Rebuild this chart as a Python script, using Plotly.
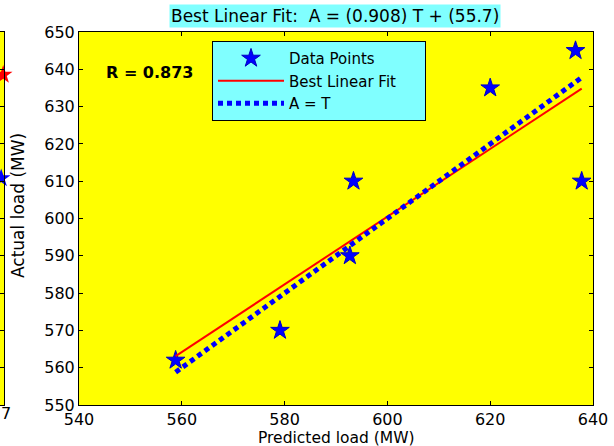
import plotly.graph_objects as go

# Regression of actual vs predicted load
predicted = [558.8, 579.1, 592.7, 593.4, 620.0, 636.6, 637.8]
actual = [562.0, 570.0, 590.0, 610.0, 635.0, 645.0, 610.0]
slope, intercept = 0.908, 55.7
r_value = 0.873

# Neighbouring panel (only its right edge shows)
side_y_red = [638.5]
side_y_blue = [610.8]

x_ticks = [540, 560, 580, 600, 620, 640]
y_ticks = [550, 560, 570, 580, 590, 600, 610, 620, 630, 640, 650]

W, H = 614, 446
x0p, x1p = 79 / W, 593 / W
y0p, y1p = 1 - 405 / H, 1 - 32 / H

tmin, tmax = min(predicted), max(predicted)
fit_x = [tmin, tmax]
fit_y = [slope * t + intercept for t in fit_x]

FONT = "DejaVu Sans, Arial, Helvetica, sans-serif"
YELLOW = "#FFFF00"
CYAN = "#80FFFF"
PAD = "\u00a0" * 5

fig = go.Figure()

fig.add_trace(go.Scatter(
    x=predicted, y=actual, mode="markers", name="Data Points",
    marker=dict(symbol="star", size=14, color="#0000FF",
                line=dict(color="#0000C0", width=1)),
))
fig.add_trace(go.Scatter(
    x=fit_x, y=fit_y, mode="lines", name="Best Linear Fit" + PAD,
    line=dict(color="#FF0000", width=2),
))
fig.add_trace(go.Scatter(
    x=fit_x, y=fit_x, mode="lines", name="A = T",
    line=dict(color="#0000FF", width=5, dash="5px,4px"),
))

# Edge of the adjoining panel
fig.add_trace(go.Scatter(
    x=[0.6], y=side_y_red, mode="markers", showlegend=False,
    marker=dict(symbol="star", size=14, color="#FF0000"),
    xaxis="x2", yaxis="y2", cliponaxis=False,
))
fig.add_trace(go.Scatter(
    x=[-0.4], y=side_y_blue, mode="markers", showlegend=False,
    marker=dict(symbol="star", size=14, color="#0000FF"),
    xaxis="x2", yaxis="y2", cliponaxis=False,
))

fig.update_layout(
    width=W, height=H,
    margin=dict(l=0, r=0, t=0, b=0),
    paper_bgcolor="white",
    plot_bgcolor=YELLOW,
    font=dict(family=FONT, size=16, color="#000000"),
    showlegend=True,
    legend=dict(
        x=212 / W, y=1 - 41 / H, xanchor="left", yanchor="top",
        bgcolor=CYAN, bordercolor="#000000", borderwidth=1,
        font=dict(family=FONT, size=15),
        tracegroupgap=0, itemwidth=66,
    ),
    xaxis=dict(
        domain=[x0p, x1p], range=[540, 640], tickvals=x_ticks,
        ticks="inside", ticklen=4, tickcolor="#000000",
        showline=True, linecolor="#000000", linewidth=1, mirror="allticks",
        showgrid=False, zeroline=False, automargin=False,
        tickfont=dict(size=16),
    ),
    yaxis=dict(
        domain=[y0p, y1p], range=[550, 650], tickvals=y_ticks,
        ticks="inside", ticklen=4, tickcolor="#000000",
        showline=True, linecolor="#000000", linewidth=1, mirror="allticks",
        showgrid=False, zeroline=False, automargin=False,
        tickfont=dict(size=16),
    ),
    xaxis2=dict(
        domain=[0, 4 / W], range=[-1, 1], anchor="y2", automargin=False,
        showticklabels=False, ticks="", showgrid=False, zeroline=False,
        showline=True, linecolor="#000000", mirror=True,
    ),
    yaxis2=dict(
        domain=[y0p, y1p], range=[550, 650], anchor="x2", tickvals=y_ticks,
        side="right", ticks="inside", ticklen=4, tickcolor="#000000",
        showticklabels=False, showgrid=False, zeroline=False,
        showline=True, linecolor="#000000", automargin=False,
    ),
)

fig.add_annotation(
    text="Best Linear Fit:  A = (%.3f) T + (%.1f)" % (slope, intercept),
    xref="paper", yref="paper", x=335 / W, y=1 - 16 / H,
    xanchor="center", yanchor="middle", showarrow=False,
    bgcolor=CYAN, font=dict(size=17), borderpad=1,
)
fig.add_annotation(
    text="<b>R = %.3f</b>" % r_value,
    xref="paper", yref="paper", x=104 / W, y=1 - 72 / H,
    xanchor="left", yanchor="middle", showarrow=False,
    font=dict(size=16),
)
fig.add_annotation(
    text="Predicted load (MW)",
    xref="paper", yref="paper", x=336 / W, y=-0.0075,
    xanchor="center", yanchor="bottom", showarrow=False,
    font=dict(size=15.5),
)
fig.add_annotation(
    text="Actual load (MW)", textangle=-90,
    xref="paper", yref="paper", x=18 / W, y=1 - 206 / H,
    xanchor="center", yanchor="middle", showarrow=False,
    font=dict(size=17),
)
fig.add_annotation(
    text="7", xref="paper", yref="paper", x=-0.002, y=1 - 413 / H,
    xanchor="left", yanchor="middle", showarrow=False,
    font=dict(size=16),
)

fig.write_html("out.html")
